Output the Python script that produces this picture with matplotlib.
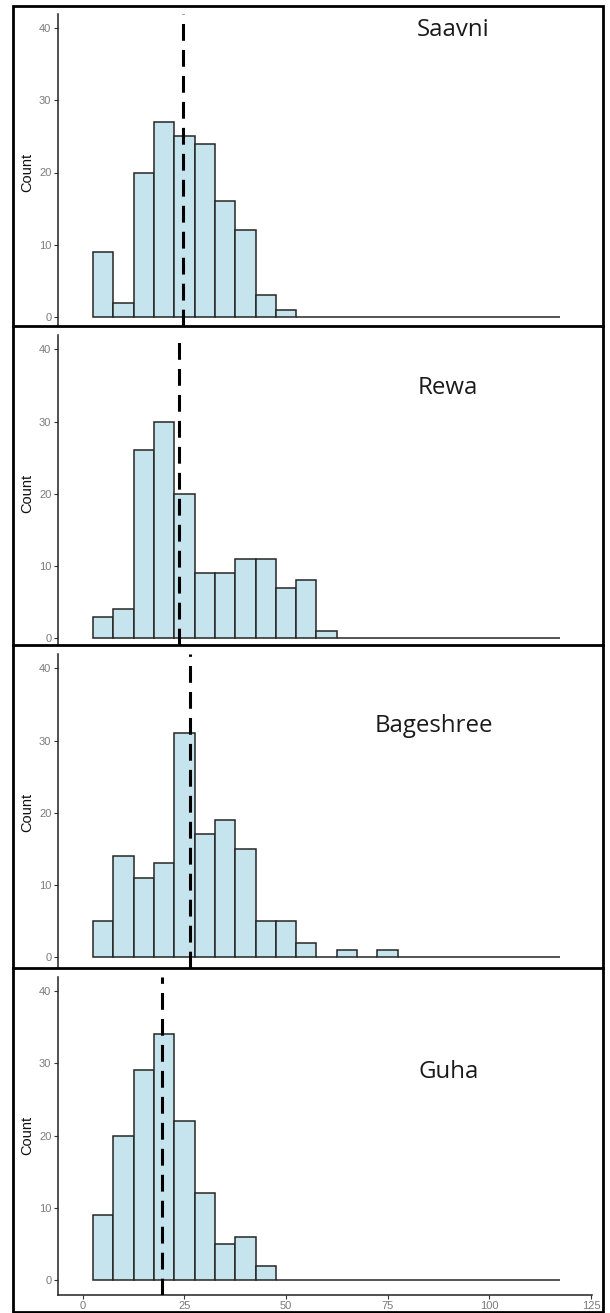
import numpy as np
import matplotlib
matplotlib.use('Agg')
import matplotlib.pyplot as plt
from matplotlib.lines import Line2D
from matplotlib.patches import Rectangle
from matplotlib.transforms import blended_transform_factory

plt.rcParams['font.family'] = ['Liberation Sans', 'DejaVu Sans']

# histogram bins, 5 wide, 2.5 .. 117.5
bin_edges = np.arange(2.5, 118, 5)

names = ['Saavni', 'Rewa', 'Bageshree', 'Guha']
saavni = [9, 2, 20, 27, 25, 24, 16, 12, 3, 1, 0, 0, 0, 0, 0, 0, 0, 0, 0, 0, 0, 0, 0]
rewa = [3, 4, 26, 30, 20, 9, 9, 11, 11, 7, 8, 1, 0, 0, 0, 0, 0, 0, 0, 0, 0, 0, 0]
bageshree = [5, 14, 11, 13, 31, 17, 19, 15, 5, 5, 2, 0, 1, 0, 1, 0, 0, 0, 0, 0, 0, 0, 0]
guha = [9, 20, 29, 34, 22, 12, 5, 6, 2, 0, 0, 0, 0, 0, 0, 0, 0, 0, 0, 0, 0, 0, 0]
counts = [saavni, rewa, bageshree, guha]
means = [24.6, 23.6, 26.3, 19.6]

yticks = [0, 10, 20, 30, 40]
xticks = [0, 25, 50, 75, 100, 125]

W, H = 610, 1313
fig = plt.figure(figsize=(W / 100, H / 100), dpi=100)
fig.patch.set_facecolor('white')

# pixel layout of the stacked panels
XPX0, XSCALE = 82.7, 4.066      # x=0 position, px per unit
YSCALE = 7.225                  # px per count
ax_l, ax_r = 58.3, 592
panel_px = [(317, 326), (638.3, 645.5), (957.3, 968), (1280, 1294.5)]   # (y=0 px, bottom px)
label_px = [(417, 36.5), (418, 394), (375, 731.5), (418, 1078)]
dividers = [326, 645.5, 968]

fill = '#c6e4ee'
edge = '#262626'
tick_txt = '#7a7a7a'

for i in range(4):
    zero_px, bot_px = panel_px[i]
    top_px = zero_px - 42 * YSCALE
    ax = fig.add_axes([ax_l / W, 1 - bot_px / H, (ax_r - ax_l) / W, (bot_px - top_px) / H])
    ax.set_xlim((ax_l - XPX0) / XSCALE, (ax_r - XPX0) / XSCALE)
    ax.set_ylim(-(bot_px - zero_px) / YSCALE, 42)

    ax.bar(bin_edges[:-1], counts[i], width=5, align='edge', color=fill,
           edgecolor=edge, linewidth=1.1, zorder=2)
    ax.axvline(means[i], color='black', linewidth=2.2, linestyle=(0, (5.5, 3)), zorder=3)

    for s in ['top', 'right']:
        ax.spines[s].set_visible(False)
    ax.spines['left'].set_color('#222222')
    ax.spines['left'].set_linewidth(1.1)
    ax.set_yticks(yticks)
    ax.tick_params(axis='y', length=3, width=0.8, color='#333333', labelsize=8,
                   labelcolor=tick_txt, pad=2)
    if i < 3:
        ax.spines['bottom'].set_visible(False)
        ax.set_xticks([])
    else:
        ax.spines['bottom'].set_color('#222222')
        ax.spines['bottom'].set_linewidth(1.1)
        ax.set_xticks(xticks)
        ax.tick_params(axis='x', length=3, width=0.8, color='#333333', labelsize=8,
                       labelcolor=tick_txt, pad=2)

    tr = blended_transform_factory(fig.transFigure, ax.transData)
    ax.text(27 / W, 20, 'Count', transform=tr, rotation=90, ha='center', va='center',
            fontsize=10.5, color='#111111')

    lx, ly = label_px[i]
    fig.text(lx / W, 1 - ly / H, names[i], fontfamily='Open Sans', fontsize=17.3,
             ha='left', va='baseline', color='#1a1a1a')

# outer border and panel dividers
fig.add_artist(Rectangle((13 / W, 1 - 1312 / H), 590 / W, 1306 / H, fill=False,
                         linewidth=2, edgecolor='black', transform=fig.transFigure, zorder=10))
for y in dividers:
    fig.add_artist(Line2D([13 / W, 603 / W], [1 - y / H, 1 - y / H], color='black',
                          linewidth=2, transform=fig.transFigure, zorder=10))

fig.savefig('out.png', dpi=100, facecolor='white')
